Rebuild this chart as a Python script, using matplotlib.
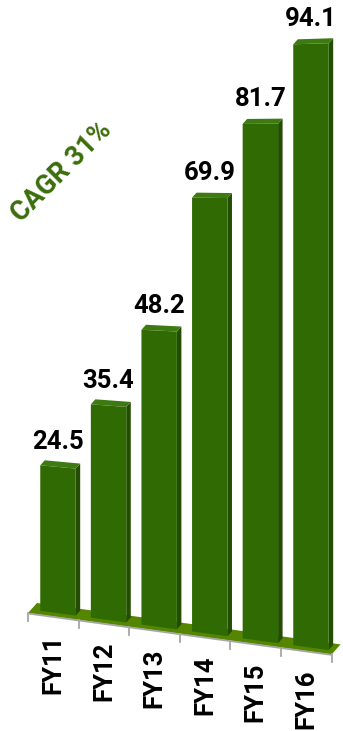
import matplotlib.pyplot as plt
from matplotlib.patches import Polygon

# Data
categories = ["FY11", "FY12", "FY13", "FY14", "FY15", "FY16"]
values = [24.5, 35.4, 48.2, 69.9, 81.7, 94.1]
cagr_label = "CAGR 31%"

FRONT = "#306a02"
SIDE = "#234d02"
TOP = "#3d7a12"
FLOOR = "#558600"
AXIS = "#a6a6a6"
TEXT_GREEN = "#3b6e0b"

plt.rcParams["font.family"] = ["Roboto", "DejaVu Sans"]


# fake 3d projection: u = category position, v = value, z = depth (0 front, 1 back)
def proj(u, v, z):
    scale = 5.92 + 0.09 * u
    x = 28 + 50.6 * u + 9 * z
    y = 613 + 6.9 * u - 10 * z - scale * v
    return x, y


fig = plt.figure(figsize=(3.43, 7.31), dpi=100)
ax = fig.add_axes([0, 0, 1, 1])
ax.set_xlim(0, 343)
ax.set_ylim(731, 0)
ax.axis("off")

n = len(categories)

# floor
floor = [proj(0, 0, 0), proj(n, 0, 0), proj(n, 0, 1), proj(0, 0, 1)]
ax.add_patch(Polygon(floor, closed=True, facecolor=FLOOR, edgecolor="none", zorder=1))

# axis line + ticks along the front edge
x0, y0 = proj(0, 0, 0)
x1, y1 = proj(n, 0, 0)
ax.plot([x0, x1], [y0 + 0.5, y1 + 0.5], color=AXIS, lw=1.3, zorder=2,
        solid_capstyle="butt")
for i in range(n + 1):
    tx, ty = proj(i, 0, 0)
    ax.plot([tx, tx], [ty, ty + 8], color=AXIS, lw=1.3, zorder=2)

# bars
z0, z1 = 0.35, 0.85
for i, v in enumerate(values):
    u0, u1 = i + 0.18, i + 0.88
    front = [proj(u0, 0, z0), proj(u1, 0, z0), proj(u1, v, z0), proj(u0, v, z0)]
    side = [proj(u1, 0, z0), proj(u1, 0, z1), proj(u1, v, z1), proj(u1, v, z0)]
    top = [proj(u0, v, z0), proj(u1, v, z0), proj(u1, v, z1), proj(u0, v, z1)]
    ax.add_patch(Polygon(side, closed=True, facecolor=SIDE, edgecolor="none", zorder=3))
    ax.add_patch(Polygon(top, closed=True, facecolor=TOP, edgecolor="none", zorder=3))
    ax.add_patch(Polygon(front, closed=True, facecolor=FRONT, edgecolor="none", zorder=4))

    # value label
    cx, cy = proj((u0 + u1) / 2, v, z0)
    ax.annotate(f"{v:.1f}", xy=(cx, cy), xytext=(0, 13), textcoords="offset points",
                ha="center", va="baseline", fontsize=18.5, fontweight="bold",
                color="black", zorder=5)

# category labels
for i, cat in enumerate(categories):
    lx, ly = proj(i + 0.5, 0, 0)
    ax.annotate(cat, xy=(lx, ly), xytext=(0, -13), textcoords="offset points",
                ha="center", va="top", rotation=90, fontsize=18.5,
                fontweight="bold", color="black")

ax.text(62, 172, cagr_label, rotation=45, ha="center", va="center",
        fontsize=19.5, fontweight="bold", color=TEXT_GREEN)

fig.savefig("out.png", dpi=100)
